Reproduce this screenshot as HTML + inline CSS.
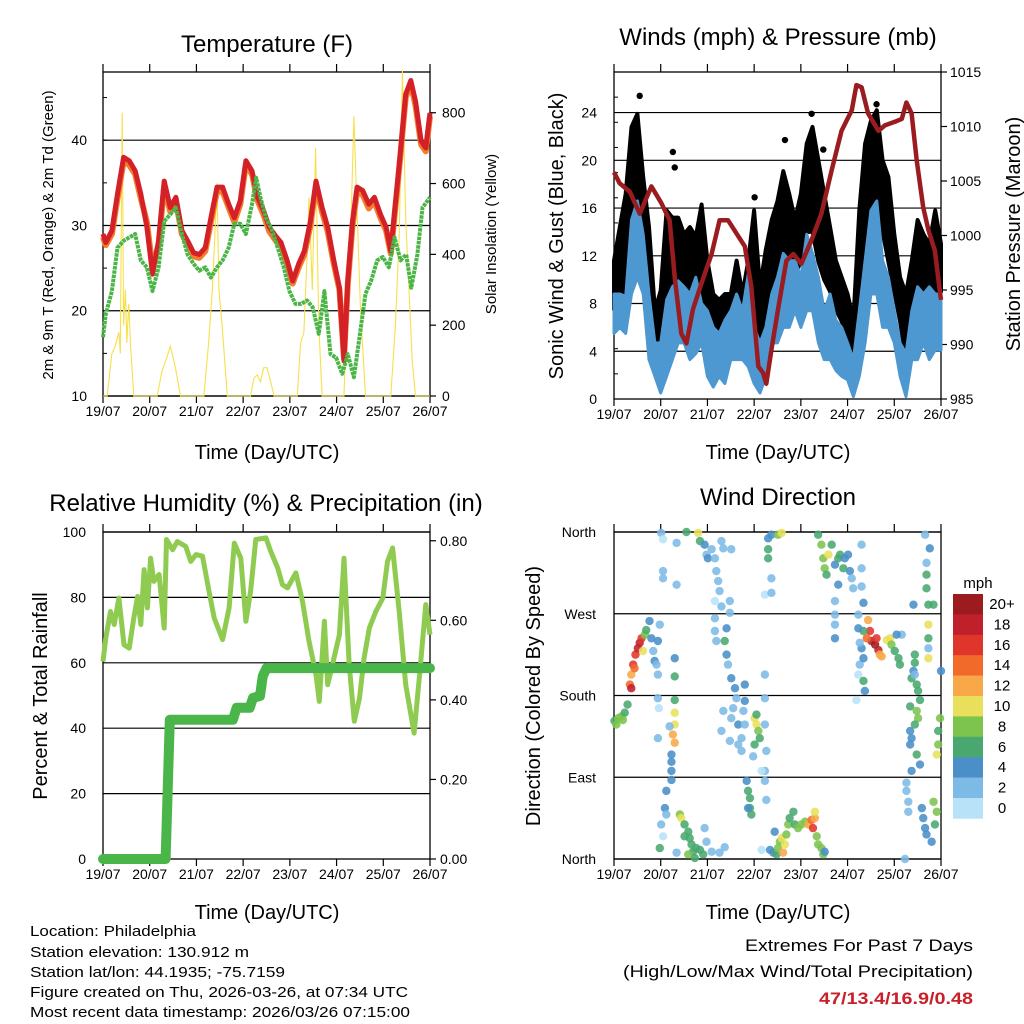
<!DOCTYPE html>
<html><head><meta charset="utf-8"><title>Station Meteogram</title>
<style>
html,body{margin:0;padding:0;background:#fff;}
svg{display:block;font-family:"Liberation Sans",Arial,sans-serif;}
.ttl{font-size:24px;text-anchor:middle;fill:#000;}
.axt{font-size:20px;text-anchor:middle;fill:#000;}
.tk{font-size:14px;fill:#000;}
.info{font-size:15px;fill:#000;}
</style></head>
<body>
<svg id="chart" width="1024" height="1024" viewBox="0 0 1024 1024" xmlns="http://www.w3.org/2000/svg">
<rect x="0" y="0" width="1024" height="1024" fill="#fff"/>
<text class="ttl" x="267" y="52">Temperature (F)</text>
<text class="ttl" x="778" y="45">Winds (mph) &amp; Pressure (mb)</text>
<text class="ttl" x="266" y="511">Relative Humidity (%) &amp; Precipitation (in)</text>
<text class="ttl" x="778" y="505">Wind Direction</text>
<text class="axt" x="267" y="459">Time (Day/UTC)</text>
<text class="axt" x="778" y="459">Time (Day/UTC)</text>
<text class="axt" x="267" y="919">Time (Day/UTC)</text>
<text class="axt" x="778" y="919">Time (Day/UTC)</text>
<text font-size="15" text-anchor="middle" transform="translate(53,235) rotate(-90)">2m &amp; 9m T (Red, Orange) &amp; 2m Td (Green)</text>
<text font-size="15" text-anchor="middle" transform="translate(496,234) rotate(-90)">Solar Insolation (Yellow)</text>
<text font-size="20" text-anchor="middle" transform="translate(563,236) rotate(-90)">Sonic Wind &amp; Gust (Blue, Black)</text>
<text font-size="20" text-anchor="middle" transform="translate(1020,234) rotate(-90)">Station Pressure (Maroon)</text>
<text font-size="20" text-anchor="middle" transform="translate(47,696) rotate(-90)">Percent &amp; Total Rainfall</text>
<text font-size="20" text-anchor="middle" transform="translate(540,696) rotate(-90)">Direction (Colored By Speed)</text>
<g>
<text class="info" x="30" y="936" textLength="166" lengthAdjust="spacingAndGlyphs">Location: Philadelphia</text>
<text class="info" x="30" y="957" textLength="219" lengthAdjust="spacingAndGlyphs">Station elevation: 130.912 m</text>
<text class="info" x="30" y="977" textLength="255" lengthAdjust="spacingAndGlyphs">Station lat/lon: 44.1935; -75.7159</text>
<text class="info" x="30" y="997" textLength="378" lengthAdjust="spacingAndGlyphs">Figure created on Thu, 2026-03-26, at 07:34 UTC</text>
<text class="info" x="30" y="1017" textLength="380" lengthAdjust="spacingAndGlyphs">Most recent data timestamp: 2026/03/26 07:15:00</text>
</g>
<g>
<text font-size="17" x="973" y="951" text-anchor="end" textLength="228" lengthAdjust="spacingAndGlyphs">Extremes For Past 7 Days</text>
<text font-size="17" x="973" y="977" text-anchor="end" textLength="350" lengthAdjust="spacingAndGlyphs">(High/Low/Max Wind/Total Precipitation)</text>
<text font-size="17" font-weight="bold" fill="#c8202a" x="973" y="1004" text-anchor="end" textLength="154" lengthAdjust="spacingAndGlyphs">47/13.4/16.9/0.48</text>
</g>
<g id="cbar">
<text font-size="15" x="978" y="588" text-anchor="middle">mph</text>
</g>
</svg>
<script>
// ---------- shared axis data ----------
const dayLabels = ["19/07","20/07","21/07","22/07","23/07","24/07","25/07","26/07"];
// ---------- temperature panel ----------
const redTimes = [0,.06,.19,.31,.44,.56,.69,.81,.94,1.06,1.19,1.31,1.44,1.56,1.69,1.81,1.94,2.06,2.19,2.31,2.44,2.56,2.69,2.81,2.94,3.06,3.19,3.31,3.44,3.56,3.69,3.81,3.94,4.06,4.19,4.31,4.44,4.56,4.69,4.81,4.94,5.06,5.16,5.24,5.34,5.44,5.56,5.69,5.81,5.94,6.06,6.16,6.23,6.35,6.48,6.59,6.69,6.81,6.91,7.0];
const redTemp = [29.0,28.0,29.4,33.7,38.0,37.6,36.4,33.7,29.8,24.3,28.2,35.2,32.1,33.3,29.4,28.2,26.8,26.6,27.4,30.9,34.5,34.5,32.5,30.9,32.9,37.6,36.4,33.3,31.7,29.8,28.8,28.0,25.9,23.5,25.5,27.0,30.5,35.2,32.1,29.8,25.9,22.7,14.1,23.5,30.5,34.5,34.1,32.5,33.3,31.3,29.8,27.0,30.9,37.6,45.4,47.0,44.6,39.9,39.1,43.2];
const orangeTemp = [28.6,27.7,29.0,33.2,37.5,37.1,36.0,33.2,30.4,25.0,27.8,34.6,31.6,32.8,29.0,27.8,26.4,26.2,27.0,30.4,34.0,34.0,32.1,30.4,32.5,37.2,36.0,32.9,31.2,29.3,28.3,27.6,25.4,23.2,25.1,26.6,30.0,34.7,31.6,29.3,25.5,22.5,14.4,23.2,30.0,34.0,33.6,32.0,32.8,30.9,29.4,26.7,30.5,37.2,45.0,46.6,44.1,39.5,38.7,42.8];
const dewTimes = [0,.06,.19,.31,.44,.56,.69,.81,.94,1.06,1.19,1.31,1.44,1.56,1.69,1.81,1.94,2.06,2.19,2.31,2.44,2.56,2.69,2.81,2.94,3.06,3.19,3.28,3.37,3.49,3.62,3.74,3.87,3.99,4.12,4.24,4.37,4.49,4.62,4.74,4.87,4.99,5.12,5.24,5.37,5.49,5.62,5.74,5.87,5.99,6.12,6.24,6.37,6.49,6.6,6.73,6.84,7.0];
const dewTemp = [16.9,19.6,22.3,27.4,28.2,28.6,29.0,25.9,25.1,22.3,25.1,30.5,31.3,32.1,29.0,26.6,25.5,24.7,25.1,23.9,25.1,25.9,27.4,30.2,30.2,29.0,32.5,35.6,33.3,30.9,29.4,27.4,25.1,22.3,20.8,20.8,21.2,20.4,17.3,22.3,14.9,14.5,12.6,14.9,12.2,16.9,22.0,23.5,25.9,26.3,25.1,28.6,25.9,26.6,22.7,26.6,32.1,33.3];
const solarTimes = [0,.09,.19,.26,.34,.37,.41,.44,.48,.51,.55,.59,.66,1.16,1.26,1.37,1.44,1.48,1.55,1.66,2.16,2.26,2.34,2.41,2.44,2.48,2.55,2.66,3.16,3.23,3.3,3.37,3.44,3.51,3.59,3.66,4.16,4.23,4.3,4.37,4.41,4.48,4.55,4.62,4.69,5.16,5.23,5.31,5.37,5.44,5.51,5.62,6.16,6.26,6.34,6.41,6.48,6.55,6.62,6.69,7.0];
const solarVals = [0,0,120,140,180,120,800,200,300,150,260,140,0,0,70,110,140,120,80,0,0,150,300,500,600,300,200,0,0,50,60,40,80,80,40,0,0,150,180,400,560,300,700,200,0,0,300,500,790,520,250,0,0,200,450,920,500,300,100,0,0];
const tempTicks = [10,20,30,40];
const solarTicks = [0,200,400,600,800];
// ---------- wind panel ----------
const windTimes = [0,.125,.25,.375,.5,.625,.75,.875,1,1.125,1.25,1.375,1.5,1.625,1.75,1.875,2,2.125,2.25,2.375,2.5,2.625,2.75,2.875,3,3.125,3.25,3.375,3.5,3.625,3.75,3.875,4,4.125,4.25,4.375,4.5,4.625,4.75,4.875,5,5.125,5.25,5.375,5.5,5.625,5.75,5.875,6,6.125,6.25,6.375,6.5,6.625,6.75,6.875,7];
const windLow = [5.5,6.0,5.5,8.8,10.2,8.8,3.3,1.9,0.5,1.9,3.3,4.7,4.7,3.3,3.8,4.7,1.9,1.0,1.9,1.3,3.3,3.3,3.3,2.7,1.3,0.5,1.9,4.7,4.7,6.0,6.0,7.4,6.0,7.4,7.4,4.7,3.3,3.3,2.4,1.9,1.6,0.2,1.9,4.7,8.8,8.8,6.0,6.0,4.7,1.9,0.2,3.3,3.3,4.7,3.3,4.1,4.1];
const windHigh = [8.8,8.8,8.6,15,16.6,13.8,8.8,4.7,4.7,8.3,9.4,9.9,9.4,8.8,10.2,8.0,7.4,6.0,5.5,6.6,7.4,8.8,7.4,10.5,6.0,4.7,6.0,8.8,10.2,12.2,11.6,11.6,10.2,13.8,12.2,10.2,7.4,8.8,6.6,6.0,4.7,3.3,7.4,11.6,15.8,16.6,11.6,10.2,7.4,4.7,3.8,7.4,9.4,8.8,9.4,8.8,8.8];
const gustLow = [7.5,8.0,8.5,12.5,14.0,11.5,6.0,3.9,2.4,4.7,7.0,8.0,8.5,7.5,8.0,7.5,6.5,5.0,4.7,4.7,5.5,6.0,6.0,7.2,5.0,4.0,6.5,9.0,10.0,11.5,11.5,10.5,11.5,14.0,14.0,11.5,10.0,9.0,7.5,6.5,5.0,3.0,7.0,12.0,15.0,15.5,14.0,11.5,9.0,6.5,3.3,6.0,8.0,9.0,8.5,8.0,9.0];
const gustHigh = [11.6,14.4,17.2,22.8,23.9,18.6,14.4,7.4,9.1,15.8,15.2,15.2,13.8,14.4,13.6,16.3,11.6,8.8,8.3,8.8,8.8,11.6,8.8,11.6,15.8,9.4,12.5,15.0,16.6,19.1,17.2,15.0,17.2,21.4,22.8,20.0,17.2,14.4,11.6,10.2,8.8,6.6,15.8,21.4,23.3,24.2,20.0,18.6,13.8,10.2,8.8,11.6,15.0,13.8,13.0,15.8,13.0];
const gustOutTimes = [.55,1.26,1.3,3.01,3.66,4.23,4.48,5.62];
const gustOutVals = [25.4,20.7,19.4,16.9,21.7,23.9,20.9,24.7];
const presTimes = [0,.12,.34,.55,.8,1.01,1.19,1.3,1.44,1.55,1.69,1.87,2.09,2.26,2.44,2.62,2.8,2.94,3.09,3.19,3.26,3.37,3.51,3.69,3.84,4.01,4.23,4.44,4.66,4.87,5.09,5.19,5.3,5.44,5.66,5.8,6.05,6.16,6.26,6.37,6.48,6.62,6.73,6.87,6.98,7.0];
const presVals = [1005.8,1004.8,1004.0,1002.0,1004.5,1003.0,1001.4,996.2,991.0,990.1,993.2,995.6,998.3,1001.4,1001.4,1000.2,999.0,995.3,988.0,987.4,986.4,989.5,993.2,997.7,998.3,997.4,999.6,1002.0,1006.0,1009.6,1011.5,1013.8,1013.6,1011.2,1009.6,1010.1,1010.5,1010.7,1012.2,1011.2,1006.9,1002.6,1000.5,998.6,994.7,994.1];
const windTicks = [0,4,8,12,16,20,24];
const presTicks = [985,990,995,1000,1005,1010,1015];
// ---------- humidity panel ----------
const rhTimes = [-0.03,.06,.16,.24,.34,.45,.56,.66,.74,.81,.88,.95,1.02,1.09,1.2,1.31,1.36,1.49,1.59,1.77,1.88,1.99,2.13,2.27,2.38,2.56,2.7,2.81,2.95,3.06,3.16,3.27,3.49,3.59,3.74,3.84,3.95,4.13,4.27,4.41,4.56,4.63,4.74,4.81,4.91,5.06,5.16,5.27,5.38,5.49,5.59,5.70,5.84,5.99,6.09,6.20,6.34,6.48,6.66,6.77,6.91,7.02];
const rhVals = [60.4,67.6,75.7,71.7,79.8,65.5,64.5,73.7,80.3,71.7,88.5,76.8,92.0,84.9,87.0,70.6,97.7,94.6,97.1,95.6,91.0,93.1,92.6,81.9,73.7,67.1,76.8,96.6,92.0,72.7,81.9,97.7,98.2,94.1,89.0,83.9,82.9,87.5,78.8,66.6,56.4,48.2,72.7,53.3,59.4,68.6,92.0,59.4,42.1,49.2,61.5,70.6,75.7,79.8,91.0,95.1,75.7,53.3,38.5,55.4,77.8,68.6];
const rainTimes = [-0.03,1.34,1.43,1.5,2.0,2.78,2.86,3.14,3.21,3.36,3.42,3.5,7.02];
const rainVals = [0,0,0.35,0.35,0.35,0.35,0.38,0.38,0.405,0.41,0.46,0.48,0.48];
const rhTicks = [0,20,40,60,80,100];
const rainTicks = ["0.00","0.20","0.40","0.60","0.80"];
// ---------- wind direction panel ----------
const dirTimes = [
 .01,.09,.16,.23,.29,.05,.19,
 .34,.37,.41,.46,.51,.55,.59,.62,.66,.69,.37,.44,
 .76,.80,.84,.87,.94,.98,.91,.94,.94,.96,.94,
 1.01,1.05,1.34,1.05,1.05,1.34,1.55,1.80,1.84,1.94,1.98,2.01,2.09,2.16,2.30,2.34,2.51,2.19,2.23,2.26,2.16,2.30,2.48,2.48,2.16,2.16,2.19,
 1.30,1.30,1.30,1.30,1.30,1.26,1.30,1.19,1.23,1.23,1.23,1.23,1.12,1.09,1.12,1.01,1.05,0.98,1.34,
 1.41,1.44,1.51,1.59,1.62,1.66,1.69,1.59,1.76,1.84,1.91,1.94,1.98,2.09,2.26,2.37,1.51,1.73,
 2.41,2.37,2.41,2.44,2.51,2.59,2.62,2.55,2.51,2.66,2.73,2.66,2.80,2.80,2.77,2.80,2.73,2.34,2.30,2.48,
 3.01,3.05,3.09,3.05,3.12,3.01,2.98,3.23,3.23,3.23,3.26,3.23,3.16,
 2.84,2.87,2.91,2.91,2.94,2.87,3.23,3.26,
 3.30,3.37,3.51,3.59,3.30,3.30,3.37,3.23,3.37,
 3.16,3.34,3.41,3.44,3.48,3.51,3.55,3.59,3.62,3.66,3.69,3.73,3.76,3.84,3.87,3.94,4.01,4.09,4.16,4.23,4.26,4.30,4.34,4.37,4.44,4.48,4.51,4.30,
 4.37,4.44,4.48,4.51,4.59,4.55,4.66,4.73,4.80,4.84,4.91,4.94,5.01,5.05,5.09,4.80,4.73,4.73,4.73,4.73,5.30,5.30,5.30,5.34,5.12,5.23,
 5.44,5.48,5.51,5.59,5.66,5.69,5.73,5.62,5.41,5.34,5.30,5.26,5.34,5.23,5.19,5.34,5.37,5.84,5.91,5.94,6.01,6.09,6.12,6.16,6.05,5.23,5.26,
 6.41,6.44,6.44,6.41,6.37,6.48,6.51,6.55,6.34,6.48,6.51,6.44,6.34,6.37,6.34,6.48,6.55,6.37,6.26,6.26,6.30,6.30,6.59,6.62,6.66,6.69,6.80,6.87,6.91,6.84,6.91,6.94,6.98,6.94,6.69,6.69,6.76,6.66,6.73,6.73,6.73,6.73,6.84,6.73,6.69,6.23,6.44,7.0];
const dirDegs = [
 152,155,157,161,170,148,153,
 192,203,214,225,232,238,243,229,247,252,188,210,
 262,243,229,218,240,258,214,203,177,166,133,
 359,352,348,317,309,302,360,359,350,346,335,331,341,331,350,342,341,317,306,295,284,278,284,271,265,251,240,
 221,201,175,161,148,137,128,146,115,107,97,87,75,56,49,38,25,12,7,
 49,45,38,30,23,16,8,5,12,10,5,34,19,8,7,13,25,1,
 254,240,225,214,199,188,177,166,155,148,133,126,192,174,163,148,119,163,141,130,
 155,148,141,159,133,126,113,203,177,148,119,97,97,
 86,75,67,56,49,56,86,65,
 353,357,357,359,341,331,309,291,293,
 10,10,7,30,5,12,19,23,7,16,27,38,45,52,38,34,38,41,38,43,34,45,25,16,12,5,8,52,
 357,346,331,320,335,313,346,324,331,335,320,331,335,317,309,302,284,269,258,243,346,320,300,282,298,269,
 263,251,240,236,230,225,223,243,243,251,232,214,221,203,175,196,185,241,243,236,229,221,214,247,247,254,238,
 280,225,216,207,199,192,185,175,168,163,155,148,141,133,126,115,104,97,84,75,63,52,56,45,34,27,19,38,52,63,115,126,155,141,313,298,342,357,258,243,221,280,280,232,326,0,203,207];
const dirSpeeds = [
 7,8,8,7,6,8,8,
 14,12,16,17,18,18,16,10,8,6,18,15,
 4,4,3,4,4,2,2,3,2,1,2,
 3,1,2,2,2,3,6,10,6,4,3,4,3,3,2,2,2,2,2,2,1,2,2,2,2,2,2,
 4,6,6,10,10,12,13,2,4,4,4,4,4,4,2,2,1,6,2,
 8,10,7,7,7,6,7,8,7,7,6,3,3,3,2,2,6,7,
 4,6,4,3,4,4,3,2,3,4,2,2,4,4,3,3,2,2,2,2,
 10,10,8,7,6,6,3,2,2,2,2,2,1,
 4,6,6,6,6,4,2,2,
 4,4,8,10,7,6,2,1,2,
 1,4,4,4,6,8,9,10,12,10,9,8,7,6,7,8,8,8,12,14,17,12,9,8,8,8,4,10,
 7,8,8,8,10,6,6,5,6,6,6,4,4,4,3,4,2,2,3,4,3,2,3,4,3,2,
 12,16,18,20,19,12,12,17,14,6,4,2,4,1,1,6,4,10,10,9,7,6,6,2,4,4,2,
 4,7,7,4,6,6,6,6,7,8,8,6,4,4,4,6,4,4,2,2,2,2,4,4,4,4,4,6,8,8,10,8,8,6,6,6,4,2,10,7,10,7,6,2,3,2,2,4];
const dirTickLabels = ["North","East","South","West","North"];
const dirTickDegs = [0,90,180,270,360];
const speedLabels = ["0","2","4","6","8","10","12","14","16","18","20+"];
const speedColors = ["#b8e2f8","#7dbbe6","#4a8fc8","#48a870","#7cc44e","#e8e05a","#f8a848","#f26a2a","#e0352b","#c0202a","#9b1b1e"];

// ---------- drawing ----------
const NS = 'http://www.w3.org/2000/svg';
const svg = document.getElementById('chart');
function mk(tag, attrs, parent) {
  const e = document.createElementNS(NS, tag);
  for (const k in attrs) e.setAttribute(k, attrs[k]);
  (parent || svg).appendChild(e);
  return e;
}
const P1 = {x0:103, x1:430, y0:72, y1:396};
const P2 = {x0:614, x1:941, y0:72, y1:399};
const P3 = {x0:103, x1:430, y0:532, y1:859};
const P4 = {x0:614, x1:941, y0:532, y1:859};
function xS(P, d) { return P.x0 + d / 7 * (P.x1 - P.x0); }
function yS(P, v, lo, hi) { return P.y1 - (v - lo) / (hi - lo) * (P.y1 - P.y0); }
function lineD(P, ts, vs, lo, hi) {
  let d = '';
  for (let i = 0; i < ts.length; i++) {
    const t = Math.max(0, Math.min(7, ts[i]));
    d += (i ? 'L' : 'M') + xS(P, t).toFixed(1) + ',' + yS(P, vs[i], lo, hi).toFixed(1);
  }
  return d;
}
function bandD(P, ts, lows, highs, lo, hi) {
  let d = '';
  for (let i = 0; i < ts.length; i++) d += (i ? 'L' : 'M') + xS(P, ts[i]).toFixed(1) + ',' + yS(P, highs[i], lo, hi).toFixed(1);
  for (let i = ts.length - 1; i >= 0; i--) d += 'L' + xS(P, ts[i]).toFixed(1) + ',' + yS(P, lows[i], lo, hi).toFixed(1);
  return d + 'Z';
}
function frame(P, name) {
  const g = mk('g', {});
  
  
  const r = mk('rect', {x:P.x0, y:P.y0, width:P.x1-P.x0, height:P.y1-P.y0, fill:'none', stroke:'#000', 'stroke-width':1.3}, g);
  
  
  for (let i = 0; i < dayLabels.length; i++) {
    const x = xS(P, i);
    const t1 = mk('line', {x1:x, x2:x, y1:P.y0-8, y2:P.y0, stroke:'#000', 'stroke-width':1.2}, g);
    
    
    const t2 = mk('line', {x1:x, x2:x, y1:P.y1, y2:P.y1+7, stroke:'#000', 'stroke-width':1.2}, g);
    
    
    const lb = mk('text', {x:x, y:P.y1+20, 'text-anchor':'middle', class:'tk'}, g);
    
    
    lb.textContent = dayLabels[i];
  }
  return g;
}
function grid(P, vals, lo, hi, g) {
  vals.forEach(v => {
    const y = yS(P, v, lo, hi);
    const l = mk('line', {x1:P.x0, x2:P.x1, y1:y, y2:y, stroke:'#000', 'stroke-width':1.2}, g);
    
    
  });
}
function minorTicks(P, lo, hi, step, g) {
  for (let v = lo; v <= hi; v += step) {
    const y = yS(P, v, lo, hi);
    const l = mk('line', {x1:P.x0, x2:P.x0+4, y1:y, y2:y, stroke:'#000', 'stroke-width':1}, g);
    
    
  }
}
function leftLabels(P, vals, labels, lo, hi, g, x) {
  vals.forEach((v, i) => {
    const y = yS(P, v, lo, hi);
    const t = mk('text', {x:x, y:y+5, 'text-anchor':'end', class:'tk'}, g);
    
    
    t.textContent = labels[i];
  });
}
function rightLabels(P, vals, labels, lo, hi, g, x) {
  vals.forEach((v, i) => {
    const y = yS(P, v, lo, hi);
    const tk = mk('line', {x1:P.x1, x2:P.x1+6, y1:y, y2:y, stroke:'#000', 'stroke-width':1.2}, g);
    
    
    const t = mk('text', {x:x, y:y+5, 'text-anchor':'start', class:'tk'}, g);
    
    
    t.textContent = labels[i];
  });
}

// Panel 1: temperature
const T_LO = 10, T_HI = 48, S_LO = 0, S_HI = 915;
const g1 = frame(P1, 'temperature');
grid(P1, tempTicks, T_LO, T_HI, g1);
minorTicks(P1, T_LO, T_HI, 5, g1);
leftLabels(P1, tempTicks, tempTicks.map(String), T_LO, T_HI, g1, 87);
rightLabels(P1, solarTicks, solarTicks.map(String), S_LO, S_HI, g1, 442);
const solar = mk('path', {d:lineD(P1, solarTimes, solarVals, S_LO, S_HI), fill:'none', stroke:'#f7e04b', 'stroke-width':1.1});


const orange = mk('path', {d:lineD(P1, redTimes, orangeTemp, T_LO, T_HI), fill:'none', stroke:'#f47c2c', 'stroke-width':6, 'stroke-linejoin':'round'});


const red = mk('path', {d:lineD(P1, redTimes, redTemp, T_LO, T_HI), fill:'none', stroke:'#d42128', 'stroke-width':5, 'stroke-linejoin':'round'});


const dew = mk('path', {d:lineD(P1, dewTimes, dewTemp, T_LO, T_HI), fill:'none', stroke:'#4cb548', 'stroke-width':4, 'stroke-dasharray':'3.5 0.8', 'stroke-linejoin':'round'});



// Panel 2: winds & pressure
const W_LO = 0, W_HI = 27.4, PR_LO = 985, PR_HI = 1015;
const g2 = frame(P2, 'winds');
grid(P2, windTicks.slice(1), W_LO, W_HI, g2);
minorTicks(P2, W_LO, 26, 2, g2);
leftLabels(P2, windTicks, windTicks.map(String), W_LO, W_HI, g2, 597);
rightLabels(P2, presTicks, presTicks.map(String), PR_LO, PR_HI, g2, 950);
const gust = mk('path', {d:bandD(P2, windTimes, gustLow, gustHigh, W_LO, W_HI), fill:'#000', stroke:'#000', 'stroke-width':4, 'stroke-linejoin':'round'});


gustOutTimes.forEach((t, i) => {
  const c = mk('circle', {cx:xS(P2, t), cy:yS(P2, gustOutVals[i], W_LO, W_HI), r:3.2, fill:'#000'});
  
  
});
const wind = mk('path', {d:bandD(P2, windTimes, windLow, windHigh, W_LO, W_HI), fill:'#4e98d2', stroke:'#4e98d2', 'stroke-width':3, 'stroke-linejoin':'round'});


const pres = mk('path', {d:lineD(P2, presTimes, presVals, PR_LO, PR_HI), fill:'none', stroke:'#9b1c20', 'stroke-width':4.5, 'stroke-linejoin':'round'});



// Panel 3: humidity & rain
const R_LO = 0, R_HI = 0.822;
const g3 = frame(P3, 'humidity');
grid(P3, rhTicks.slice(1), 0, 100, g3);
leftLabels(P3, rhTicks, rhTicks.map(String), 0, 100, g3, 86);
rightLabels(P3, rainTicks.map(Number), rainTicks, R_LO, R_HI, g3, 440);
const rh = mk('path', {d:lineD(P3, rhTimes, rhVals, 0, 100), fill:'none', stroke:'#8fcb50', 'stroke-width':5, 'stroke-linejoin':'round'});


const rain = mk('path', {d:lineD(P3, rainTimes, rainVals, R_LO, R_HI), fill:'none', stroke:'#4ab64a', 'stroke-width':10, 'stroke-linejoin':'round', 'stroke-linecap':'round'});



// Panel 4: wind direction
const g4 = frame(P4, 'wind-direction');
grid(P4, dirTickDegs, 0, 360, g4);
leftLabels(P4, dirTickDegs, dirTickLabels, 0, 360, g4, 596);
function speedColor(s) { return speedColors[Math.min(10, Math.floor(s / 2))]; }
dirTimes.forEach((t, i) => {
  const c = mk('circle', {cx:xS(P4, t), cy:yS(P4, dirDegs[i], 0, 360), r:4.2, fill:speedColor(dirSpeeds[i]), 'fill-opacity':0.88});
  
  
});

// colorbar
const cb = document.getElementById('cbar');
const CB = {x:953, y0:594, h:20.4, w:30};
for (let i = 0; i < speedColors.length; i++) {
  const k = speedColors.length - 1 - i;
  const r = mk('rect', {x:CB.x, y:CB.y0 + i*CB.h, width:CB.w, height:CB.h+0.3, fill:speedColors[k]}, cb);
  
  
  const t = mk('text', {x:1002, y:CB.y0 + i*CB.h + 15, 'text-anchor':'middle', 'font-size':15}, cb);
  
  
  t.textContent = speedLabels[k];
}
</script>
</body></html>
